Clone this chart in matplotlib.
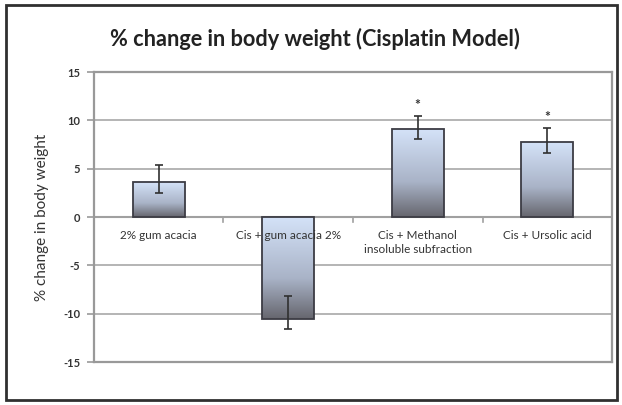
import matplotlib
matplotlib.use("Agg")
from matplotlib import pyplot as plt
from matplotlib.colors import LinearSegmentedColormap
from matplotlib.patches import Rectangle
import numpy as np

categories = ["2% gum acacia", "Cis + gum acacia 2%",
              "Cis + Methanol\ninsoluble subfraction", "Cis + Ursolic acid"]
values = [3.6, -10.5, 9.1, 7.75]
err_low = [1.1, 1.1, 1.0, 1.15]
err_high = [1.8, 2.3, 1.4, 1.45]
signif = ["", "", "*", "*"]
yticks = [-15, -10, -5, 0, 5, 10, 15]

plt.rcParams['font.family'] = ['Lato', 'DejaVu Sans']

fig = plt.figure(figsize=(6.22, 4.05), dpi=100)
fig.patches.append(Rectangle((0.009, 0.012), 0.983, 0.976, transform=fig.transFigure,
                             fill=False, edgecolor="#303030", linewidth=2))
ax = fig.add_axes([0.151, 0.106, 0.833, 0.716])

grad = LinearSegmentedColormap.from_list(
    "bar", [(0, "#66666e"), (0.4, "#a9b3c7"), (1, "#d4e2f8")])
x = np.arange(len(categories))
width = 0.4
bars = ax.bar(x, values, width=width, facecolor="none", edgecolor="#3c3c44",
              linewidth=1.3, zorder=3)
img = np.linspace(0, 1, 256).reshape(-1, 1)
for b, v in zip(bars, values):
    x0 = b.get_x()
    ylo, yhi = min(0, v), max(0, v)
    im = ax.imshow(img, cmap=grad, origin="lower", aspect="auto",
                   extent=(x0, x0 + width, ylo, yhi), zorder=2)
    im.set_clip_path(b)

ax.errorbar(x, values, yerr=[err_low, err_high], fmt="none", ecolor="#303030",
            elinewidth=1.2, capsize=3, capthick=1.2, zorder=4)
for xi, v, eh, s in zip(x, values, err_high, signif):
    if s:
        ax.text(xi, v + eh + 0.5, s, ha="center", va="bottom", fontsize=10,
                color="#333333", fontweight="bold")

ax.set_xlim(-0.5, len(categories) - 0.5)
ax.set_ylim(-15, 15)
ax.set_yticks(yticks)
ax.set_yticklabels([str(t) for t in yticks], fontsize=8, color="#333333",
                   fontweight="bold")
ax.tick_params(axis="y", length=5, color="#999999", width=1.2, pad=5)
ax.set_xticks([])
ax.grid(axis="y", color="#a8a8a8", linewidth=1.2, zorder=0)
ax.set_axisbelow(True)
ax.axhline(0, color="#a0a0a0", linewidth=1.5, zorder=1)
for xm in x[:-1] + 0.5:
    ax.plot([xm, xm], [0, -0.5], color="#a0a0a0", linewidth=1.2, zorder=1)

for xi, c in zip(x, categories):
    ax.text(xi, -1.3, c, ha="center", va="top", fontsize=8.5, color="#333333",
            linespacing=1.4, zorder=5)

for s in ["left", "top", "bottom", "right"]:
    ax.spines[s].set_color("#999999")
    ax.spines[s].set_linewidth(1.6)

ax.set_ylabel("% change in body weight", fontsize=11, color="#333333", labelpad=10)
fig.text(0.507, 0.905, "% change in body weight (Cisplatin Model)", ha="center",
         va="center", fontsize=15.7, color="#222222", fontweight="bold")

fig.savefig("out.png", dpi=100)
